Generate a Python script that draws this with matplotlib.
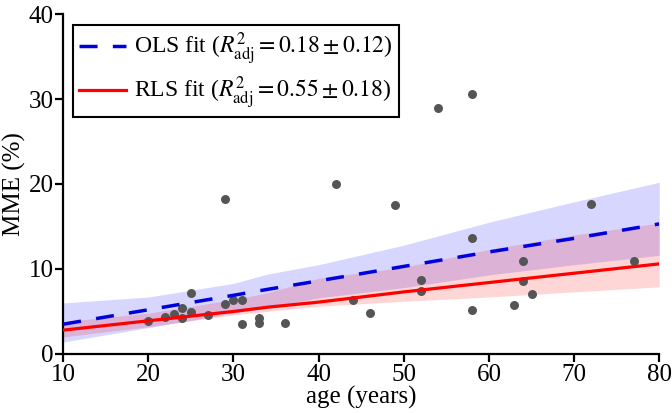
import numpy as np
import matplotlib
matplotlib.use("Agg")
import matplotlib.pyplot as plt

plt.rcParams["font.family"] = "Liberation Serif"
plt.rcParams["mathtext.fontset"] = "stix"

# measured points: age (years) vs MME (%)
age = [20, 22, 23, 24, 24, 25, 25, 27, 29, 29, 30, 31, 31, 33, 33, 36,
       42, 44, 46, 49, 52, 52, 54, 58, 58, 58, 63, 64, 64, 65, 72, 77]
mme = [3.9, 4.4, 4.7, 5.4, 4.2, 7.2, 4.9, 4.6, 18.2, 5.9, 6.3, 6.3, 3.5, 4.2, 3.7, 3.6,
       20.0, 6.4, 4.8, 17.5, 8.7, 7.45, 28.9, 30.6, 13.7, 5.2, 5.8, 10.9, 8.6, 7.06, 17.7, 10.9]

# fitted lines and their bands, read at these ages
fit_age = [10, 20, 30, 34, 40, 50, 60, 70, 80]
ols_fit = [3.5, 5.2, 6.9, 7.6, 8.6, 10.3, 12.0, 13.6, 15.3]
ols_hi = [6.0, 6.7, 8.3, 9.4, 10.5, 12.8, 15.5, 17.9, 20.2]
ols_lo = [1.4, 3.1, 4.8, 5.4, 6.6, 7.8, 9.3, 10.5, 11.6]
rls_fit = [2.8, 3.9, 5.0, 5.5, 6.1, 7.3, 8.4, 9.5, 10.6]
rls_hi = [3.8, 4.8, 6.4, 7.2, 8.9, 10.2, 12.3, 14.0, 15.4]
rls_lo = [2.0, 3.2, 4.6, 5.0, 5.6, 6.2, 6.7, 7.3, 7.9]

ols_label = r"OLS fit ($R^2_{\mathrm{adj}} = 0.18 \pm 0.12$)"
rls_label = r"RLS fit ($R^2_{\mathrm{adj}} = 0.55 \pm 0.18$)"

fs = 18

fig = plt.figure(figsize=(6.72, 4.13), dpi=100)
ax = fig.add_axes([0.094, 0.143, 0.887, 0.823])

ax.fill_between(fit_age, ols_lo, ols_hi, color="blue", alpha=0.16, linewidth=0)
ax.fill_between(fit_age, rls_lo, rls_hi, color="red", alpha=0.16, linewidth=0)
ax.scatter(age, mme, s=42, color="#555555", zorder=3, linewidths=0)
ax.plot(fit_age, ols_fit, color="#0000dd", lw=2.5, linestyle=(0, (5.2, 4.4)), label=ols_label, zorder=4)
ax.plot(fit_age, rls_fit, color="#ff0000", lw=2.3, label=rls_label, zorder=4)

ax.set_xlim(10, 80)
ax.set_ylim(0, 40)
ax.set_xticks([10, 20, 30, 40, 50, 60, 70, 80])
ax.set_yticks([0, 10, 20, 30, 40])
ax.spines["top"].set_visible(False)
ax.spines["right"].set_visible(False)
for s in ["left", "bottom"]:
    ax.spines[s].set_linewidth(1.6)
ax.tick_params(direction="out", length=6, width=1.6, labelsize=fs, pad=1)
ax.set_xlabel("age (years)", fontsize=fs, labelpad=0)
ax.set_ylabel("MME (%)", fontsize=fs, labelpad=2)

leg = ax.legend(loc="upper left", bbox_to_anchor=(0.008, 0.982), fontsize=17,
                fancybox=False, framealpha=1, edgecolor="black",
                handlelength=2.0, handletextpad=0.35, borderpad=0.25, labelspacing=0.3,
                borderaxespad=0.2)
leg.get_frame().set_linewidth(1.5)

fig.savefig("out.png", dpi=100)
